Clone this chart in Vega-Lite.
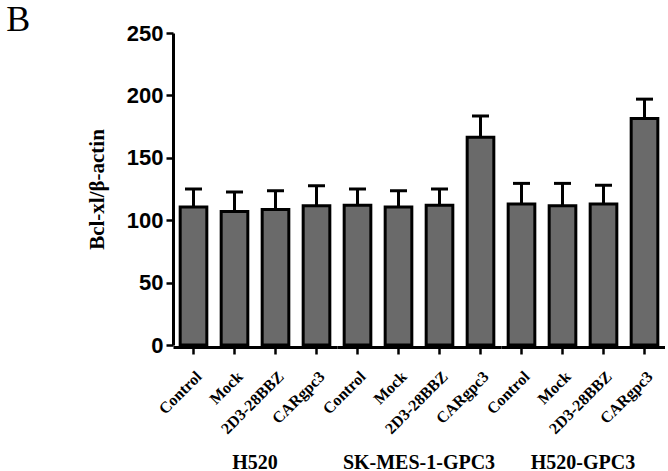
{
  "$schema": "https://vega.github.io/schema/vega-lite/v6.json",
  "background": "white",
  "padding": {"left": 6, "top": 2, "right": 0, "bottom": 0},
  "title": {"text": "B", "font": "Liberation Serif", "fontSize": 36, "fontWeight": "normal", "color": "black", "anchor": "start", "frame": "bounds", "offset": -17, "dx": -80},
  "data": {"values": [
    {"group": "H520", "cond": "Control", "value": 110.5, "upper": 125},
    {"group": "H520", "cond": "Mock", "value": 107, "upper": 122.6},
    {"group": "H520", "cond": "2D3-28BBZ", "value": 108.5, "upper": 123.6},
    {"group": "H520", "cond": "CARgpc3", "value": 111.5, "upper": 127.6},
    {"group": "SK-MES-1-GPC3", "cond": "Control", "value": 112, "upper": 125},
    {"group": "SK-MES-1-GPC3", "cond": "Mock", "value": 110.5, "upper": 123.6},
    {"group": "SK-MES-1-GPC3", "cond": "2D3-28BBZ", "value": 112, "upper": 125},
    {"group": "SK-MES-1-GPC3", "cond": "CARgpc3", "value": 166.5, "upper": 183.5},
    {"group": "H520-GPC3", "cond": "Control", "value": 113, "upper": 129.5},
    {"group": "H520-GPC3", "cond": "Mock", "value": 111.5, "upper": 129.5},
    {"group": "H520-GPC3", "cond": "2D3-28BBZ", "value": 113, "upper": 128},
    {"group": "H520-GPC3", "cond": "CARgpc3", "value": 181.5, "upper": 197}
  ]},
  "facet": {
    "column": {
      "field": "group", "type": "nominal",
      "sort": ["H520", "SK-MES-1-GPC3", "H520-GPC3"],
      "header": {"title": null, "labelOrient": "bottom", "labelFont": "Liberation Serif", "labelFontSize": 20, "labelFontWeight": "bold", "labelColor": "black", "labelPadding": 16}
    }
  },
  "spacing": 0,
  "spec": {
    "width": {"step": 41},
    "height": 312,
    "encoding": {
      "x": {"field": "cond", "type": "nominal", "sort": ["Control", "Mock", "2D3-28BBZ", "CARgpc3"],
        "scale": {"type": "band", "paddingInner": 0.35, "paddingOuter": 0.175},
        "axis": {"title": null, "labelAngle": -45, "labelFont": "Liberation Serif", "labelFontSize": 16, "labelFontWeight": "bold", "labelPadding": 14}}
    },
    "layer": [
      {"mark": {"type": "bar", "fill": "#6a6a6a", "stroke": "black", "strokeWidth": 3},
       "encoding": {"y": {"field": "value", "type": "quantitative", "scale": {"domain": [0, 250], "nice": false},
         "axis": {"title": "Bcl-xl/β-actin", "values": [0, 50, 100, 150, 200, 250], "titleFont": "Liberation Serif", "titleFontSize": 21, "titleFontWeight": "bold", "titlePadding": 19, "labelFont": "Liberation Sans", "labelFontSize": 22, "labelFontWeight": "bold", "labelPadding": 3}}}},
      {"mark": {"type": "rule", "color": "black", "strokeWidth": 3},
       "encoding": {"y": {"field": "value", "type": "quantitative"}, "y2": {"field": "upper"}}},
      {"mark": {"type": "tick", "color": "black", "thickness": 3, "size": 17, "opacity": 1},
       "encoding": {"y": {"field": "upper", "type": "quantitative"}}}
    ]
  },
  "config": {
    "view": {"stroke": null},
    "axis": {"grid": false, "domainColor": "black", "domainWidth": 3, "tickColor": "black", "tickWidth": 2.5, "tickSize": 7, "labelColor": "black", "titleColor": "black"}
  }
}
